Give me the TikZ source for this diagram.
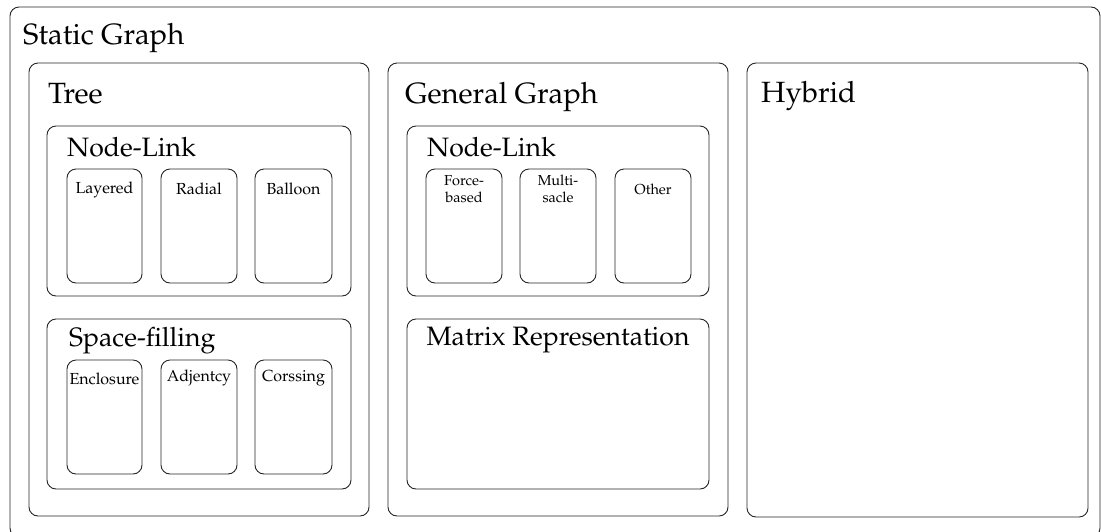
\documentclass[tikz,border=0pt]{standalone}
\usepackage[T1]{fontenc}
\usepackage{mathpazo}
\begin{document}
\begin{tikzpicture}[x=1pt,y=-1pt,
  box/.style={draw=black!85, line width=0.9pt, rounded corners=9pt, inner sep=0pt, outer sep=0pt, anchor=north west},
  big/.style={anchor=base west, inner sep=0pt, font=\fontsize{29.3}{35}\selectfont},
  mid/.style={anchor=base west, inner sep=0pt, font=\fontsize{26.6}{32}\selectfont},
  small/.style={anchor=base, inner sep=0pt, font=\fontsize{16}{19}\selectfont},
  tiny/.style={anchor=base, inner sep=0pt, align=center, font=\fontsize{14.5}{17}\selectfont}]
\useasboundingbox (0,0) rectangle (1101,531);
\clip (0,0) rectangle (1101,531);
% boxes
\node[box, minimum width=1090, minimum height=530] (outer) at (10,7) {};
\node[box, minimum width=340, minimum height=453] (tree) at (29,63) {};
\node[box, minimum width=340, minimum height=453] (general) at (388,63) {};
\node[box, minimum width=341, minimum height=454] (hybrid) at (747,63) {};
\node[box, minimum width=304, minimum height=170] (tnl) at (47,126) {};
\node[box, minimum width=304, minimum height=170] (tsf) at (47,319) {};
\node[box, minimum width=302, minimum height=170] (gnl) at (407,126) {};
\node[box, minimum width=302, minimum height=170] (matrix) at (407,319) {};
\node[box, minimum width=75, minimum height=114] (layered) at (67,169) {};
\node[box, minimum width=76, minimum height=114] (radial) at (161,169) {};
\node[box, minimum width=77, minimum height=114] (balloon) at (255,169) {};
\node[box, minimum width=75, minimum height=114] (enclosure) at (67,360) {};
\node[box, minimum width=76, minimum height=114] (adjentcy) at (161,360) {};
\node[box, minimum width=77, minimum height=114] (corssing) at (255,360) {};
\node[box, minimum width=76, minimum height=114] (force) at (426,169) {};
\node[box, minimum width=76, minimum height=114] (multi) at (520,169) {};
\node[box, minimum width=76, minimum height=114] (other) at (615,169) {};
% labels
\node[big] (tStatic) at (23,44) {Static Graph};
\node[big] (tTree) at (48,103) {Tree};
\node[big] (tGeneral) at (405,103) {General Graph};
\node[big] (tHybrid) at (761,102) {Hybrid};
\node[mid] (tNL1) at (67,156) {Node-Link};
\node[mid] (tSF) at (69,346) {Space-filling};
\node[mid] (tNL2) at (427,156) {Node-Link};
\node[mid, anchor=base] (tMatrix) at (558,345) {Matrix Representation};
\node[small] (tLayered) at (104.5,193) {Layered};
\node[small] (tRadial) at (199,194) {Radial};
\node[small] (tBalloon) at (293.5,194) {Balloon};
\node[small] (tEnclosure) at (104.5,384) {Enclosure};
\node[small] (tAdjentcy) at (199,381) {Adjentcy};
\node[small] (tCorssing) at (293.5,381) {Corssing};
\node[tiny] (tForce1) at (464,185) {Force-};
\node[tiny] (tForce2) at (464,202) {based};
\node[tiny] (tMulti1) at (558,185) {Multi-};
\node[tiny] (tMulti2) at (558,202) {sacle};
\node[tiny] (tOther) at (653,194) {Other};
\end{tikzpicture}
\end{document}
